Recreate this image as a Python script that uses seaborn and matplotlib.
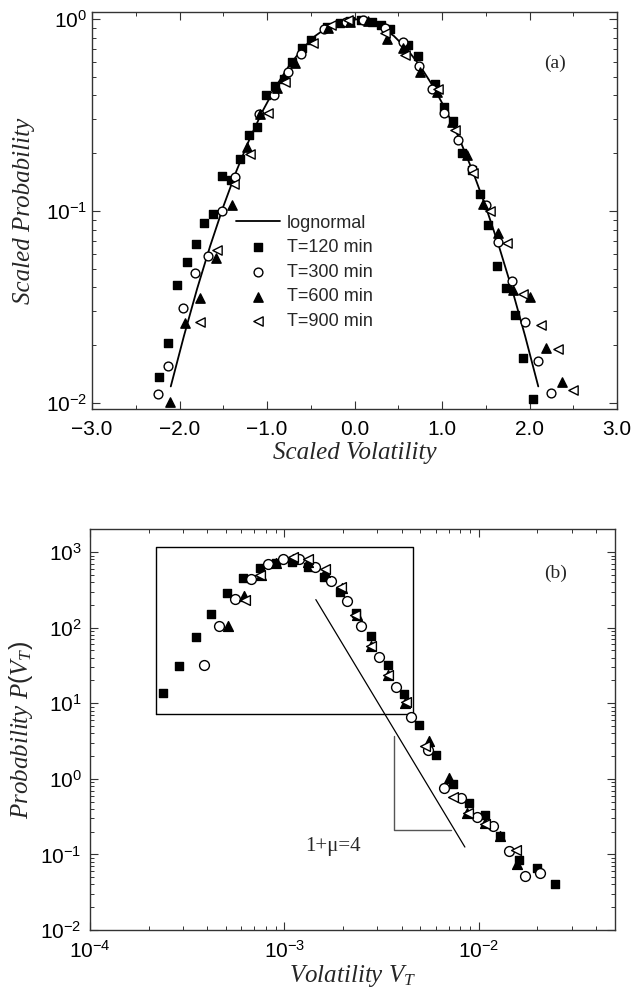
import numpy as np
import pandas as pd
import matplotlib
matplotlib.use("Agg")
import matplotlib.pyplot as plt
import seaborn as sns
from matplotlib.ticker import FixedLocator, FuncFormatter, LogLocator, NullFormatter

# ---------------- Panel (a) data ----------------
fit_x = [-2.1, -1.95, -1.8, -1.65, -1.5, -1.35, -1.2, -1.05, -0.9, -0.75, -0.6, -0.45, -0.3, -0.15, 0.0,
         0.15, 0.3, 0.45, 0.6, 0.75, 0.9, 1.05, 1.2, 1.35, 1.5, 1.65, 1.8, 1.95, 2.1]
fit_y = [0.0122, 0.0223, 0.0392, 0.0657, 0.1054, 0.1616, 0.2369, 0.3321, 0.4449, 0.5698, 0.6977, 0.8167, 0.9139, 0.9778, 1.0,
         0.9778, 0.9139, 0.8167, 0.6977, 0.5698, 0.4449, 0.3321, 0.2369, 0.1616, 0.1054, 0.0657, 0.0392, 0.0223, 0.0122]

a_x120 = [-2.23, -2.13, -2.03, -1.91, -1.815, -1.72, -1.62, -1.52, -1.415, -1.31, -1.21, -1.11, -1.015, -0.91, -0.81,
          -0.71, -0.60, -0.50, -0.32, -0.17, -0.05, 0.07, 0.2, 0.3, 0.41, 0.615, 0.72, 0.92, 1.02, 1.13, 1.225, 1.34,
          1.435, 1.53, 1.625, 1.73, 1.83, 1.92, 2.04]
a_y120 = [0.0136, 0.0206, 0.0412, 0.054, 0.067, 0.087, 0.097, 0.152, 0.145, 0.186, 0.249, 0.275, 0.402, 0.448, 0.49,
          0.60, 0.703, 0.778, 0.912, 0.95, 0.98, 0.99, 0.97, 0.93, 0.883, 0.732, 0.641, 0.458, 0.349, 0.295, 0.201, 0.164,
          0.1227, 0.0845, 0.0519, 0.0399, 0.0287, 0.0171, 0.0105]

a_x300 = [-2.25, -2.13, -1.955, -1.82, -1.68, -1.51, -1.366, -1.088, -0.917, -0.764, -0.61, -0.35, -0.1, 0.1, 0.35,
          0.55, 0.74, 0.88, 1.027, 1.187, 1.34, 1.50, 1.643, 1.796, 1.95, 2.10, 2.24]
a_y300 = [0.0112, 0.0155, 0.0311, 0.0473, 0.0583, 0.1004, 0.1497, 0.32, 0.402, 0.532, 0.657, 0.89, 0.97, 0.99, 0.9,
          0.76, 0.569, 0.43, 0.323, 0.234, 0.165, 0.1075, 0.0687, 0.0432, 0.0263, 0.0166, 0.0113]

a_x600 = [-2.11, -1.937, -1.766, -1.583, -1.396, -1.232, -1.08, -0.889, -0.68, -0.3, -0.05, 0.15, 0.368, 0.558, 0.749,
          0.94, 1.11, 1.282, 1.472, 1.643, 1.815, 2.006, 2.19, 2.37]
a_y600 = [0.0101, 0.026, 0.0351, 0.0567, 0.1075, 0.216, 0.32, 0.435, 0.588, 0.9, 0.97, 0.98, 0.79, 0.704, 0.532,
          0.418, 0.292, 0.196, 0.1088, 0.0765, 0.0388, 0.0358, 0.0194, 0.0128]

a_x900 = [-1.766, -1.575, -1.377, -1.194, -0.985, -0.794, -0.47, -0.27, -0.07, 0.349, 0.577, 0.958, 1.149, 1.358,
          1.549, 1.739, 1.92, 2.13, 2.33, 2.5]
a_y900 = [0.0265, 0.063, 0.139, 0.198, 0.323, 0.471, 0.747, 0.93, 0.99, 0.842, 0.649, 0.43, 0.264, 0.157,
          0.1004, 0.0679, 0.0368, 0.0255, 0.0191, 0.0117]

a_xticks = [-3.0, -2.0, -1.0, 0.0, 1.0, 2.0, 3.0]
a_legend = ["lognormal", "T=120 min", "T=300 min", "T=600 min", "T=900 min"]

# ---------------- Panel (b) data ----------------
b_x120 = [2.37e-4, 2.88e-4, 3.49e-4, 4.2e-4, 5.08e-4, 6.14e-4, 7.48e-4, 9.0e-4, 1.09e-3, 1.32e-3, 1.6e-3, 1.93e-3,
          2.33e-3, 2.8e-3, 3.39e-3, 4.12e-3, 4.93e-3, 6.0e-3, 7.33e-3, 8.9e-3, 1.07e-2, 1.29e-2, 1.61e-2, 2.0e-2, 2.46e-2]
b_y120 = [13.6, 30.9, 75, 152, 283, 448, 608, 721, 744, 638, 470, 297,
          154, 76.6, 32.3, 13.3, 5.15, 2.06, 0.86, 0.48, 0.33, 0.175, 0.0855, 0.066, 0.0405]

b_x300 = [3.86e-4, 4.6e-4, 5.57e-4, 6.73e-4, 8.2e-4, 9.86e-4, 1.19e-3, 1.44e-3, 1.73e-3, 2.09e-3, 2.49e-3, 3.07e-3,
          3.74e-3, 4.47e-3, 5.48e-3, 6.6e-3, 8.07e-3, 9.8e-3, 1.18e-2, 1.43e-2, 1.72e-2, 2.07e-2]
b_y300 = [31.6, 104, 238, 437, 686, 807, 800, 638, 412, 226, 104, 40.6,
          16.6, 6.63, 2.4, 0.76, 0.56, 0.312, 0.237, 0.110, 0.051, 0.0568]

b_x600 = [5.1e-4, 6.2e-4, 7.6e-4, 9.1e-4, 1.11e-3, 1.32e-3, 1.61e-3, 1.97e-3, 2.35e-3, 2.8e-3, 3.39e-3, 4.17e-3,
          5.55e-3, 7.03e-3, 8.64e-3, 1.07e-2, 1.28e-2, 1.57e-2]
b_y600 = [104, 261, 495, 720, 800, 743, 547, 330, 146, 58, 23.3, 10,
          3.18, 1.04, 0.356, 0.262, 0.175, 0.0748]

b_x900 = [6.27e-4, 7.5e-4, 1.1e-3, 1.32e-3, 1.61e-3, 1.95e-3, 2.3e-3, 2.8e-3, 3.39e-3, 4.22e-3, 5.27e-3, 7.38e-3,
          8.8e-3, 1.07e-2, 1.56e-2]
b_y900 = [235, 495, 867, 800, 589, 346, 146, 58, 23.3, 10.3, 2.74, 0.575,
          0.356, 0.249, 0.116]

# annotation geometry (data units)
box_x = [2.18e-4, 4.56e-3]
box_y = [7.28, 1165]
slope_x = [1.45e-3, 8.47e-3]
slope_y = [235, 0.125]
tri_x = [3.67e-3, 3.67e-3, 7.15e-3]
tri_y = [3.72, 0.21, 0.21]
mu_label = "1+\u03bc=4"
mu_pos = (1.78e-3, 0.128)

# ---------------- style ----------------
sns.set_style("ticks")
plt.rcParams["font.family"] = ["Liberation Sans", "DejaVu Sans"]
plt.rcParams["mathtext.fontset"] = "custom"
plt.rcParams["mathtext.rm"] = "Liberation Sans"
plt.rcParams["mathtext.it"] = "Liberation Serif:italic"
plt.rcParams["axes.unicode_minus"] = True
for ax_ in ("xtick", "ytick"):
    plt.rcParams[f"{ax_}.direction"] = "in"
    plt.rcParams[f"{ax_}.color"] = "#333333"
    plt.rcParams[f"{ax_}.labelcolor"] = "black"
plt.rcParams["axes.edgecolor"] = "#333333"
plt.rcParams["axes.linewidth"] = 1.0

fig = plt.figure(figsize=(6.32, 9.89), dpi=100)
axA = fig.add_axes([0.1456, 0.5864, 0.8307, 0.4014])
axB = fig.add_axes([0.1424, 0.0597, 0.8307, 0.4054])

serif_it = dict(fontfamily="Liberation Serif", fontstyle="italic")


def style_markers(ax, xs, ys, size_sq, size_c, size_t, labels=None):
    specs = [
        (xs[0], ys[0], "s", "black", "black", size_sq),
        (xs[1], ys[1], "o", "white", "black", size_c),
        (xs[2], ys[2], "^", "black", "black", size_t),
        (xs[3], ys[3], "<", "white", "black", size_t),
    ]
    for i, (x, y, m, fc, ec, s) in enumerate(specs):
        df = pd.DataFrame({"x": x, "y": y})
        sns.scatterplot(data=df, x="x", y="y", ax=ax, marker=m, s=s,
                        facecolor=fc, edgecolor=ec, linewidth=1.0,
                        label=(labels[i] if labels else None), zorder=3 + i)


def path(ax, x, y, color, lw):
    sns.lineplot(x=x, y=y, ax=ax, sort=False, estimator=None, color=color,
                 linewidth=lw, zorder=1)


# ---- panel (a) ----
sns.lineplot(x=fit_x, y=fit_y, ax=axA, color="black", linewidth=1.3, sort=False,
             estimator=None, label=a_legend[0], zorder=2)
style_markers(axA, [a_x120, a_x300, a_x600, a_x900], [a_y120, a_y300, a_y600, a_y900],
              30, 40, 45, labels=a_legend[1:])
axA.set_yscale("log")
axA.set_xlim(-3.0, 3.0)
axA.set_ylim(0.0093, 1.088)
axA.xaxis.set_major_locator(FixedLocator(a_xticks))
axA.xaxis.set_minor_locator(FixedLocator([-2.5, -1.5, -0.5, 0.5, 1.5, 2.5]))
axA.xaxis.set_major_formatter(FuncFormatter(lambda v, p: f"{v:.1f}".replace("-", "\u2212")))
axA.yaxis.set_major_locator(LogLocator(base=10))
axA.yaxis.set_minor_locator(LogLocator(base=10, subs=np.arange(2, 10)))
axA.yaxis.set_minor_formatter(NullFormatter())
axA.set_xlabel("Scaled Volatility", fontsize=18, labelpad=2, **serif_it)
axA.set_ylabel("Scaled Probability", fontsize=18, labelpad=8, **serif_it)
axA.text(0.882, 0.872, "(a)", transform=axA.transAxes, ha="center", va="center",
         fontsize=14, fontfamily="Liberation Serif")
leg = axA.legend(loc="upper left", bbox_to_anchor=(0.275, 0.49), frameon=False,
                 fontsize=13, handlelength=2.4, handletextpad=0.4, labelspacing=0.42,
                 borderaxespad=0, borderpad=0)

# ---- panel (b) ----
style_markers(axB, [b_x120, b_x300, b_x600, b_x900], [b_y120, b_y300, b_y600, b_y900],
              30, 50, 50, labels=None)
axB.set_xscale("log")
axB.set_yscale("log")
axB.set_xlim(1e-4, 0.0501)
axB.set_ylim(1e-2, 2018)
path(axB, [box_x[0], box_x[1], box_x[1], box_x[0], box_x[0]],
     [box_y[0], box_y[0], box_y[1], box_y[1], box_y[0]], "black", 1.0)
path(axB, slope_x, slope_y, "black", 0.9)
path(axB, tri_x, tri_y, "#555555", 1.0)
axB.text(mu_pos[0], mu_pos[1], mu_label, ha="center", va="center", fontsize=15,
         fontfamily="Liberation Serif")
axB.text(0.886, 0.89, "(b)", transform=axB.transAxes, ha="center", va="center",
         fontsize=14, fontfamily="Liberation Serif")
axB.xaxis.set_major_locator(LogLocator(base=10))
axB.xaxis.set_minor_locator(LogLocator(base=10, subs=np.arange(2, 10)))
axB.xaxis.set_minor_formatter(NullFormatter())
axB.yaxis.set_major_locator(LogLocator(base=10, numticks=12))
axB.yaxis.set_minor_locator(LogLocator(base=10, subs=np.arange(2, 10), numticks=12))
axB.yaxis.set_minor_formatter(NullFormatter())
axB.set_xlabel(r"$Volatility\ V_T$", fontsize=18, labelpad=1)
axB.set_ylabel(r"$Probability\ P(V_T)$", fontsize=18, labelpad=4)

for ax in (axA, axB):
    ax.tick_params(which="both", top=True, right=True, labelsize=15)
    ax.tick_params(which="major", length=6, width=0.8)
    ax.tick_params(which="minor", length=3, width=0.7)
    for sp in ax.spines.values():
        sp.set_visible(True)
axA.tick_params(axis="x", which="major", pad=8)
axB.tick_params(axis="x", which="major", pad=7)
axB.tick_params(axis="y", which="major", pad=6)

fig.savefig("out.png", dpi=100)
